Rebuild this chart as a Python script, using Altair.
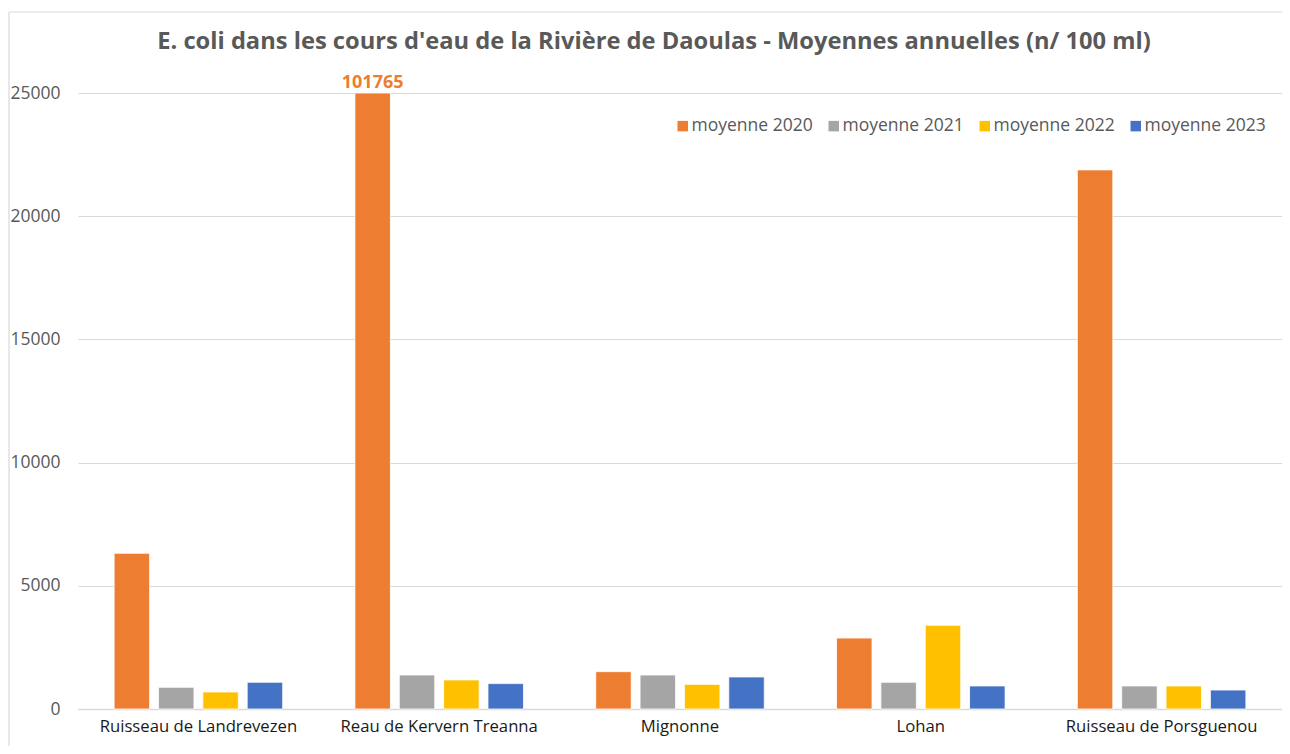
import altair as alt
import pandas as pd

categories = ["Ruisseau de Landrevezen", "Reau de Kervern Treanna", "Mignonne", "Lohan", "Ruisseau de Porsguenou"]
series = ["moyenne 2020", "moyenne 2021", "moyenne 2022", "moyenne 2023"]
v2020 = [6320, 101765, 1515, 2880, 21880]
v2021 = [880, 1380, 1380, 1085, 935]
v2022 = [690, 1180, 1000, 3400, 935]
v2023 = [1085, 1030, 1300, 935, 770]
colors = ["#ED7D31", "#A5A5A5", "#FFC000", "#4472C4"]
y_ticks = [0, 5000, 10000, 15000, 20000, 25000]
y_max = 25000

rows = []
for s, vals in zip(series, [v2020, v2021, v2022, v2023]):
    for c, v in zip(categories, vals):
        rows.append({"cours": c, "serie": s, "valeur": v})
df = pd.DataFrame(rows)
labels_df = df[df["valeur"] > y_max].copy()
labels_df["txt"] = labels_df["valeur"].astype(str)

FONT = "Open Sans"
GREY = "#595959"
W, H = 1204, 616

x_enc = alt.X("cours:N", sort=categories, title=None,
              scale=alt.Scale(paddingInner=0.3, paddingOuter=0.15),
              axis=alt.Axis(labelAngle=0, labelFontSize=16.7, labelColor="#1a1a1a",
                            labelFont=FONT, ticks=False, domainColor="#d9d9d9", labelLimit=0,
                            domainWidth=1.5, labelPadding=9))
y_scale = alt.Scale(domain=[0, y_max], clamp=True, nice=False)

bars = alt.Chart(df).mark_bar(stroke="white", strokeWidth=0.8).encode(
    x=x_enc,
    xOffset=alt.XOffset("serie:N", sort=series, scale=alt.Scale(paddingInner=0.2)),
    y=alt.Y("valeur:Q", scale=y_scale, title=None,
            axis=alt.Axis(values=y_ticks, format="d", labelFontSize=17.5, labelColor=GREY, labelFont=FONT,
                          ticks=False, domain=False, gridColor="#d9d9d9", gridWidth=1.2,
                          labelPadding=18)),
    color=alt.Color("serie:N", sort=series, title=None,
                    scale=alt.Scale(domain=series, range=colors),
                    legend=alt.Legend(orient="none", legendX=596, legendY=24, direction="horizontal",
                                      symbolType="square", symbolSize=110, symbolStrokeWidth=0,
                                      labelFontSize=17.5, labelColor=GREY, labelFont=FONT,
                                      columnPadding=12, labelOffset=0)),
)

text = alt.Chart(labels_df).mark_text(color="#ED7D31", fontWeight="bold", fontSize=18,
                                       font=FONT, dy=-10, baseline="middle").encode(
    x=alt.X("cours:N", sort=categories),
    xOffset=alt.XOffset("serie:N", sort=series),
    y=alt.Y("valeur:Q", scale=y_scale),
    text="txt:N",
)

one = pd.DataFrame({"a": [0]})
frame_top = alt.Chart(one).mark_rule(stroke="#d9d9d9", strokeWidth=1.2).encode(
    x=alt.value(-69), x2=alt.value(W), y=alt.value(-81)
)
frame_left = alt.Chart(one).mark_rule(stroke="#d9d9d9", strokeWidth=1.2).encode(
    x=alt.value(-69), y=alt.value(-81), y2=alt.value(H + 37)
)

chart = alt.layer(frame_top, frame_left, bars, text).properties(
    width=W, height=H,
    title=alt.TitleParams(
        "E. coli dans les cours d'eau de la Rivière de Daoulas - Moyennes annuelles (n/ 100 ml)",
        fontSize=23.7, fontWeight="bold", color=GREY, font=FONT, anchor="middle",
        frame="group", dx=-26, offset=-42),
    autosize=alt.AutoSizeParams(type="none"),
    padding={"left": 70, "top": 85, "right": 0, "bottom": 37},
).configure(background="white").configure_view(stroke=None, strokeWidth=0)

chart.save("out.html", embed_options={"renderer": "svg", "actions": False})
